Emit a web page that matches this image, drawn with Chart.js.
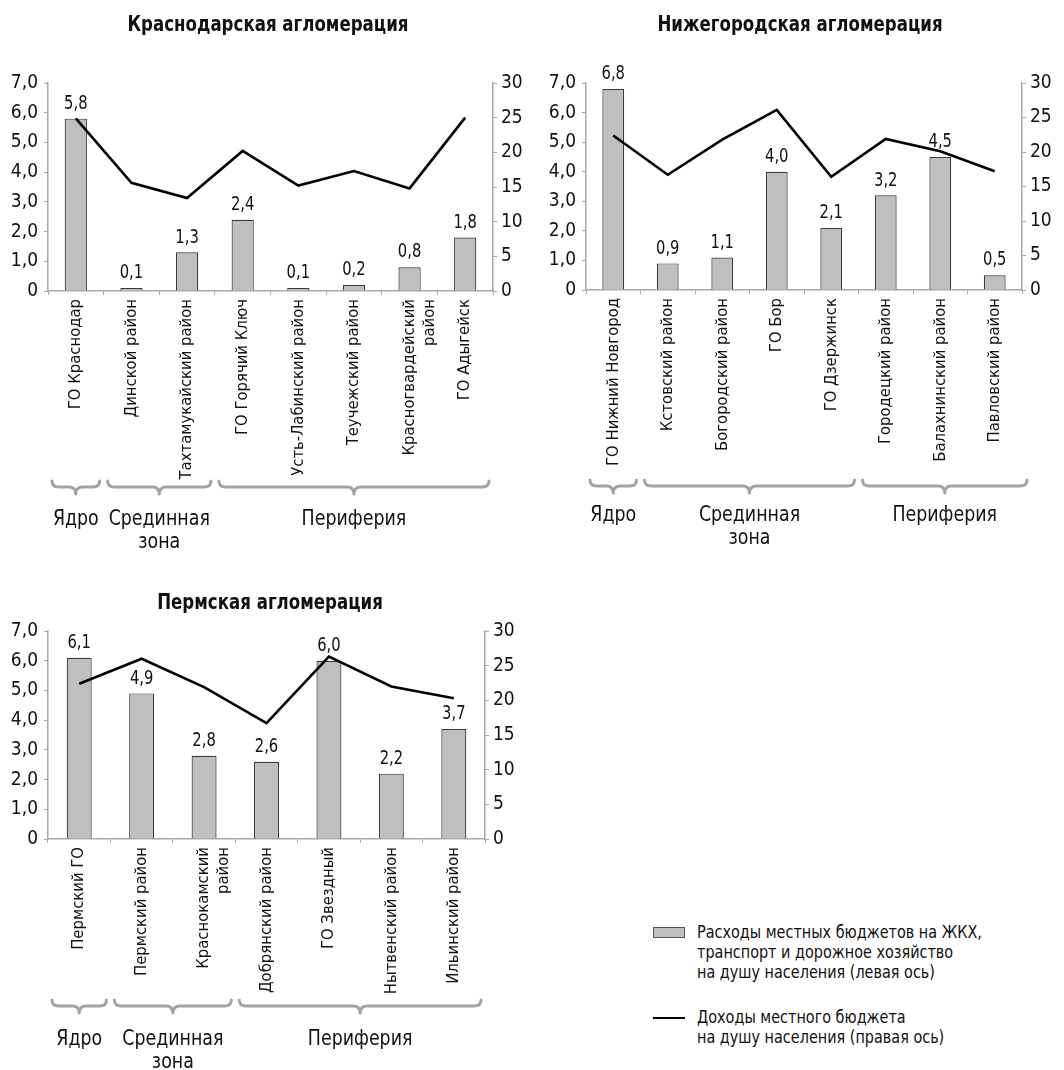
<!DOCTYPE html>
<html lang="ru">
<head>
<meta charset="utf-8">
<script src="https://cdn.jsdelivr.net/npm/chart.js@4.4.1/dist/chart.umd.min.js"></script>
<style>
  html, body { margin: 0; padding: 0; background: #fff; }
  #page { position: relative; width: 1064px; height: 1070px; overflow: hidden;
          font-family: "DejaVu Sans Condensed", "DejaVu Sans", sans-serif; color: #111; }
  canvas { position: absolute; }
  .legend-item { position: absolute; left: 653px; }
  .swatch-bar { position: absolute; left: 0; width: 30px; height: 9px; background: #bfbfbf; border: 1px solid #555; }
  .swatch-line { position: absolute; left: 0; width: 32px; height: 0; border-top: 2px solid #000; }
  .legend-text { position: absolute; left: 44px; white-space: nowrap; font-size: 18px; line-height: 20px;
                 transform: scaleX(0.89); transform-origin: 0 0; }
</style>
</head>
<body>
<div id="page">
  <canvas id="kras" width="530" height="560" style="left:0;top:0"></canvas>
  <canvas id="nizh" width="534" height="560" style="left:530px;top:0"></canvas>
  <canvas id="perm" width="530" height="500" style="left:0;top:570px"></canvas>

  <div class="legend-item" style="top:922px">
    <div class="swatch-bar" style="top:5px"></div>
    <div class="legend-text" style="top:0">Расходы местных бюджетов на ЖКХ,<br>транспорт и дорожное хозяйство<br>на душу населения (левая ось)</div>
  </div>
  <div class="legend-item" style="top:1007px">
    <div class="swatch-line" style="top:10px"></div>
    <div class="legend-text" style="top:0">Доходы местного бюджета<br>на душу населения (правая ось)</div>
  </div>
</div>

<script>
// ---- Краснодарская агломерация ----
const krasCategories = ['ГО Краснодар', 'Динской район', 'Тахтамукайский район', 'ГО Горячий Ключ',
  'Усть-Лабинский район', 'Теучежский район', ['Красногвардейский', 'район'], 'ГО Адыгейск'];
const krasSpending = [5.8, 0.1, 1.3, 2.4, 0.1, 0.2, 0.8, 1.8];
const krasRevenue = [24.9, 15.6, 13.4, 20.2, 15.2, 17.3, 14.8, 25.0];
const krasZoneNames = [['Ядро'], ['Срединная', 'зона'], ['Периферия']];
const krasZoneFirst = [0, 1, 3];
const krasZoneLast = [0, 2, 7];

// ---- Нижегородская агломерация ----
const nizhCategories = ['ГО Нижний Новгород', 'Кстовский район', 'Богородский район', 'ГО Бор',
  'ГО Дзержинск', 'Городецкий район', 'Балахнинский район', 'Павловский район'];
const nizhSpending = [6.8, 0.9, 1.1, 4.0, 2.1, 3.2, 4.5, 0.5];
const nizhRevenue = [22.4, 16.7, 21.8, 26.1, 16.4, 21.9, 20.1, 17.2];
const nizhZoneNames = [['Ядро'], ['Срединная', 'зона'], ['Периферия']];
const nizhZoneFirst = [0, 1, 5];
const nizhZoneLast = [0, 4, 7];

// ---- Пермская агломерация ----
const permCategories = ['Пермский ГО', 'Пермский район', ['Краснокамский', 'район'], 'Добрянский район',
  'ГО Звездный', 'Нытвенский район', 'Ильинский район'];
const permSpending = [6.1, 4.9, 2.8, 2.6, 6.0, 2.2, 3.7];
const permRevenue = [22.4, 26.0, 21.9, 16.7, 26.3, 22.0, 20.3];
const permZoneNames = [['Ядро'], ['Срединная', 'зона'], ['Периферия']];
const permZoneFirst = [0, 1, 3];
const permZoneLast = [0, 2, 6];

// Axis ranges and tick steps
const leftAxisMax = 7, leftAxisStep = 1;
const rightAxisMax = 30, rightAxisStep = 5;

const FONT = '"DejaVu Sans Condensed", "DejaVu Sans", sans-serif';
const AXIS_GREY = '#a8a8a8';
const fmt1 = v => v.toFixed(1).replace('.', ',');

// text squeezed horizontally for a tall, narrow look
function narrowText(ctx, text, x, y, sx) {
  ctx.save();
  ctx.translate(x, y);
  ctx.scale(sx, 1);
  ctx.fillText(text, 0, 0);
  ctx.restore();
}

// Title, bar value labels, zone braces and zone names
const annotations = {
  id: 'annotations',
  afterDatasetsDraw(chart) {
    const ctx = chart.ctx;
    ctx.save();
    const meta = chart.getDatasetMeta(0);
    ctx.fillStyle = '#111';
    ctx.font = '20px ' + FONT;
    ctx.textAlign = 'center';
    ctx.textBaseline = 'bottom';
    meta.data.forEach((bar, i) => {
      narrowText(ctx, fmt1(chart.data.datasets[0].data[i]), bar.x, bar.y - 5, 0.82);
    });
    ctx.restore();
  },
  afterDraw(chart, args, o) {
    const ctx = chart.ctx;
    const xs = chart.scales.x;
    const half = (xs.getPixelForValue(1) - xs.getPixelForValue(0)) / 2;
    ctx.save();
    ctx.fillStyle = '#111';
    ctx.font = 'bold 21px ' + FONT;
    ctx.textAlign = 'center';
    ctx.textBaseline = 'middle';
    narrowText(ctx, o.title, o.titleX, o.titleY, 0.88);

    ctx.strokeStyle = '#a3a3a3';
    ctx.lineWidth = 3;
    ctx.lineCap = 'round';
    ctx.lineJoin = 'round';
    o.first.forEach((f, k) => {
      const x1 = xs.getPixelForValue(f) - half + 4;
      const x2 = xs.getPixelForValue(o.last[k]) + half - 4 + (o.lastExtra && k === o.first.length - 1 ? o.lastExtra : 0);
      const mid = (x1 + x2) / 2;
      const y0 = o.braceY, y1 = y0 + 6, y2 = y0 + 13;
      ctx.beginPath();
      ctx.moveTo(x1, y0);
      ctx.quadraticCurveTo(x1, y1, x1 + 7, y1);
      ctx.lineTo(mid - 7, y1);
      ctx.quadraticCurveTo(mid, y1, mid, y2);
      ctx.quadraticCurveTo(mid, y1, mid + 7, y1);
      ctx.lineTo(x2 - 7, y1);
      ctx.quadraticCurveTo(x2, y1, x2, y0);
      ctx.stroke();

      ctx.fillStyle = '#111';
      ctx.font = '22px ' + FONT;
      ctx.textAlign = 'center';
      ctx.textBaseline = 'middle';
      o.names[k].forEach((line, j) => narrowText(ctx, line, mid, o.nameY + j * 23, 0.88));
    });
    ctx.restore();
  }
};

function buildChart(id, categories, spending, revenue, opts) {
  const tickFont = { family: FONT, size: 19 };
  return new Chart(document.getElementById(id), {
    data: {
      labels: categories,
      datasets: [
        {
          type: 'bar', yAxisID: 'y', order: 1, data: spending,
          backgroundColor: '#bfbfbf', borderColor: '#3a3a3a', borderWidth: 1.2,
          barPercentage: 0.4, categoryPercentage: 1.0
        },
        {
          type: 'line', yAxisID: 'y1', order: 0, data: revenue,
          borderColor: '#000', borderWidth: 2.6, pointRadius: 0, tension: 0, fill: false
        }
      ]
    },
    options: {
      responsive: false, animation: false, devicePixelRatio: 1,
      layout: { padding: { top: opts.top, left: 0, right: 0, bottom: 0 } },
      plugins: {
        legend: { display: false }, tooltip: { enabled: false }, title: { display: false },
        annotations: opts.notes
      },
      scales: {
        x: {
          type: 'category', offset: true,
          grid: { offset: true, drawOnChartArea: false, drawTicks: true, tickLength: 4, color: AXIS_GREY },
          border: { color: AXIS_GREY, width: 1.5 },
          ticks: { minRotation: 90, maxRotation: 90, autoSkip: false, padding: 4, color: '#111',
                   font: { family: FONT, size: 16.5 } },
          afterFit: s => { s.height = opts.xHeight; }
        },
        y: {
          position: 'left', min: 0, max: leftAxisMax,
          grid: { drawOnChartArea: false, tickLength: 4, color: AXIS_GREY },
          border: { color: AXIS_GREY, width: 1.5 },
          ticks: { stepSize: leftAxisStep, padding: 6, color: '#111', font: tickFont,
                   callback: v => v === 0 ? '0' : fmt1(v) },
          afterFit: s => { s.width = opts.leftW; }
        },
        y1: {
          position: 'right', min: 0, max: rightAxisMax,
          grid: { drawOnChartArea: false, tickLength: 4, color: AXIS_GREY },
          border: { color: AXIS_GREY, width: 1.5 },
          ticks: { stepSize: rightAxisStep, padding: 4, color: '#111', font: tickFont },
          afterFit: s => { s.width = opts.rightW; }
        }
      }
    },
    plugins: [annotations]
  });
}

buildChart('kras', krasCategories, krasSpending, krasRevenue, {
  top: 83, xHeight: 269, leftW: 48, rightW: 37,
  notes: { title: 'Краснодарская агломерация', titleX: 268, titleY: 26,
           names: krasZoneNames, first: krasZoneFirst, last: krasZoneLast, braceY: 481, nameY: 519 }
});

buildChart('nizh', nizhCategories, nizhSpending, nizhRevenue, {
  top: 83, xHeight: 270, leftW: 56, rightW: 42,
  notes: { title: 'Нижегородская агломерация', titleX: 270, titleY: 26,
           names: nizhZoneNames, first: nizhZoneFirst, last: nizhZoneLast, braceY: 480, nameY: 515,
           lastExtra: 9 }
});

buildChart('perm', permCategories, permSpending, permRevenue, {
  top: 61, xHeight: 231, leftW: 48, rightW: 45,
  notes: { title: 'Пермская агломерация', titleX: 270, titleY: 34,
           names: permZoneNames, first: permZoneFirst, last: permZoneLast, braceY: 430, nameY: 469 }
});
</script>
</body>
</html>
